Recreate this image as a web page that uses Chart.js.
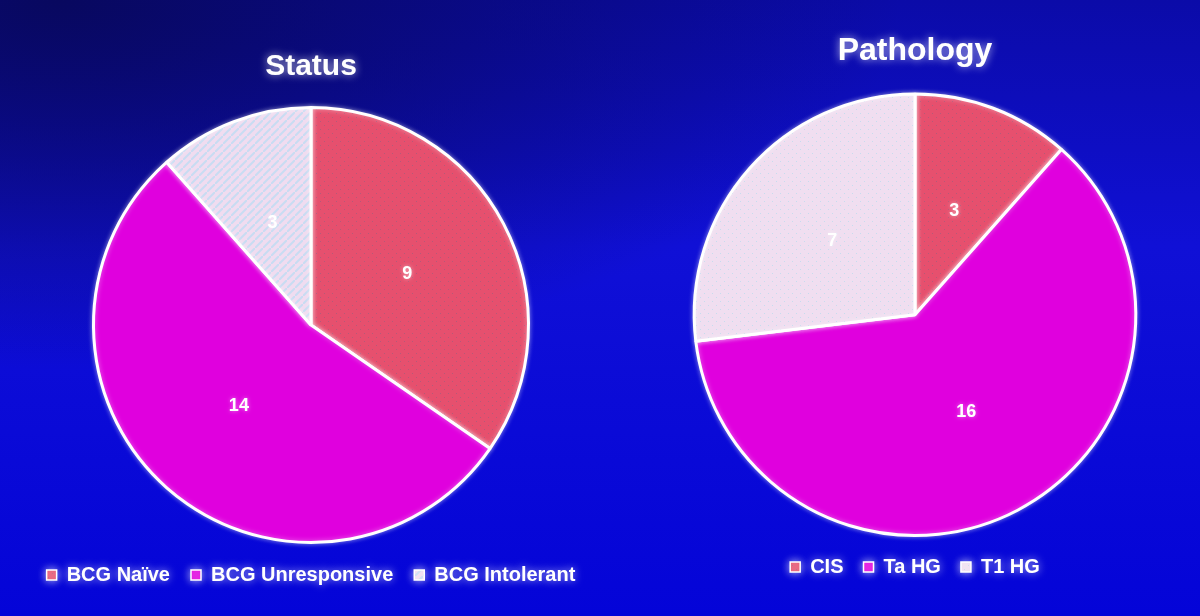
<!DOCTYPE html>
<html>
<head>
<meta charset="utf-8">
<script src="https://cdn.jsdelivr.net/npm/chart.js@4/dist/chart.umd.min.js"></script>
<style>
  html, body { margin: 0; padding: 0; }
  body {
    width: 1200px; height: 616px; overflow: hidden; position: relative;
    background:
      radial-gradient(ellipse 70% 60% at 5% 0%, rgba(8,8,95,1) 0%, rgba(8,8,95,0) 100%),
      linear-gradient(180deg, #0b0ba8 0%, #1010d6 40%, #0404d8 100%);
  }
  .box { position: absolute; top: 0; height: 616px; }
</style>
</head>
<body>
<div class="box" style="left:-9px; width:640px"><canvas id="chartStatus"></canvas></div>
<div class="box" style="left:635px; width:560px"><canvas id="chartPathology"></canvas></div>
<script>
// data
const statusLabels = ["BCG Naïve", "BCG Unresponsive", "BCG Intolerant"];
const statusValues = [9, 14, 3];
const pathologyLabels = ["CIS", "Ta HG", "T1 HG"];
const pathologyValues = [3, 16, 7];

const FONT = "'Liberation Sans', Arial, sans-serif";

// small textured fills like the slide (dots / stripes)
function makePattern(base, mark, kind){
    let c = document.createElement("canvas");
    c.width = 8; c.height = 8;
    let g = c.getContext("2d");
    g.fillStyle = base;
    g.fillRect(0, 0, 8, 8);
    g.fillStyle = mark;
    if (kind == "dots") {
        g.fillRect(1, 1, 1, 1);
        g.fillRect(5, 5, 1, 1);
    } else {
        g.strokeStyle = mark;
        g.lineWidth = 2;
        g.beginPath();
        g.moveTo(0, 8); g.lineTo(8, 0);
        g.stroke();
    }
    return g.createPattern(c, "repeat");
}

const magenta = "#e000de";
const redDots = makePattern("#e6506e", "#b45a78", "dots");
const lightStripes = makePattern("#f0dcf0", "#c8dcf2", "stripes");
const lightDots = makePattern("#f0def0", "#c6dcee", "dots");

// glow on titles/legend + value labels inside slices
const glowAndValues = {
    id: "glowAndValues",
    beforeDraw(chart){
        chart.ctx.shadowColor = "rgba(255,255,255,0.7)";
        chart.ctx.shadowBlur = 8;
    },
    beforeDatasetsDraw(chart){
        chart.ctx.shadowColor = "rgba(255,255,255,0.45)";
        chart.ctx.shadowBlur = 5;
    },
    afterDatasetsDraw(chart){
        let ctx = chart.ctx;
        let meta = chart.getDatasetMeta(0);
        let values = chart.data.datasets[0].data;
        ctx.save();
        ctx.shadowColor = "rgba(255,255,255,0.5)";
        ctx.shadowBlur = 4;
        ctx.fillStyle = "#ffffff";
        ctx.font = "bold 18px " + FONT;
        ctx.textAlign = "center";
        ctx.textBaseline = "middle";
        meta.data.forEach((arc, i) => {
            let p = arc.tooltipPosition();
            ctx.fillText(values[i], p.x, p.y);
        });
        ctx.restore();
    },
    afterDraw(chart){
        chart.ctx.shadowBlur = 0;
        chart.ctx.shadowColor = "transparent";
    }
};

function createPie(element, title, titleSize, titleTop, titleBottom, labels, values, colors, legendPad, bottomPad){
    return new Chart(element, {
        type: "pie",
        data: {
            labels: labels,
            datasets: [{
                data: values,
                backgroundColor: colors,
                borderColor: "#ffffff",
                borderWidth: 3
            }]
        },
        options: {
            responsive: true,
            maintainAspectRatio: false,
            animation: false,
            layout: { padding: { bottom: bottomPad } },
            plugins: {
                tooltip: { enabled: false },
                title: {
                    display: true,
                    text: title,
                    color: "#ffffff",
                    font: { family: FONT, size: titleSize, weight: "bold" },
                    padding: { top: titleTop, bottom: titleBottom }
                },
                legend: {
                    position: "bottom",
                    labels: {
                        color: "#ffffff",
                        font: { family: FONT, size: 20, weight: "bold" },
                        boxWidth: 10,
                        boxHeight: 10,
                        padding: legendPad,
                        generateLabels(chart){
                            let items = Chart.overrides.pie.plugins.legend.labels.generateLabels(chart);
                            items.forEach(it => { it.lineWidth = 1.5; });
                            return items;
                        }
                    }
                }
            }
        },
        plugins: [glowAndValues]
    });
}

createPie(document.getElementById("chartStatus"), "Status", 30, 49, 21,
    statusLabels, statusValues, [redDots, magenta, lightStripes], 21, 21);
createPie(document.getElementById("chartPathology"), "Pathology", 32, 32, 22,
    pathologyLabels, pathologyValues, [redDots, magenta, lightDots], 20, 29);
</script>
</body>
</html>
